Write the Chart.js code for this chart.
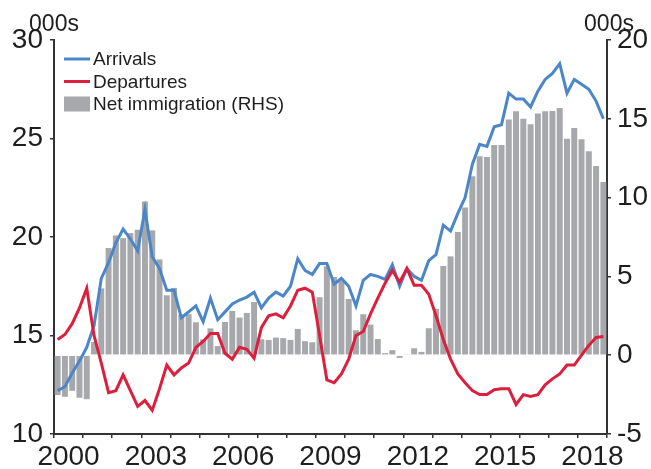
<!DOCTYPE html>
<html><head><meta charset="utf-8">
<script src="https://cdn.jsdelivr.net/npm/chart.js@4.4.1/dist/chart.umd.min.js"></script>
<style>html,body{margin:0;padding:0;background:#fff}#wrap{width:651px;height:469px;position:relative}</style>
</head><body><div id="wrap"><canvas id="c"></canvas></div>
<script>
// Quarterly categories 2000 Q1 .. 2018 Q4
const startYear = 2000, endYear = 2018;
const quarters = [];
for (let y = startYear; y <= endYear; y++) for (let q = 1; q <= 4; q++) quarters.push(y + ' Q' + q);

// Arrivals, 000s (LHS)
const arrivals = [
  12.2, 12.4, 13.1, 13.7, 14.4, 15.5, 17.9, 18.7, 19.7, 20.4, 19.9, 19.3,
  21.4, 19.0, 18.4, 17.3, 17.3, 15.9, 16.2, 16.5, 15.7, 16.9, 15.8, 16.2,
  16.6, 16.8, 16.95, 17.2, 16.4, 16.9, 17.2, 17.0, 17.5, 18.9, 18.3, 18.1,
  18.65, 18.65, 17.6, 17.9, 17.5, 16.5, 17.8, 18.1, 18.0, 17.85, 18.6, 17.5,
  18.4, 18.0, 17.8, 18.8, 19.1, 20.6, 20.3, 21.2, 22.0, 23.7, 24.7, 24.6,
  25.6, 25.7, 27.3, 27.0, 27.0, 26.6, 27.4, 28.0, 28.3, 28.8, 27.3, 28.0,
  27.75, 27.5, 26.9, 26.0
];
// Departures, 000s (LHS)
const departures = [
  14.8, 15.05, 15.6, 16.4, 17.4, 15.0, 13.6, 12.1, 12.2, 13.0, 12.2, 11.4,
  11.7, 11.2, 12.3, 13.5, 13.0, 13.35, 13.6, 14.4, 14.7, 15.1, 15.1, 14.1,
  13.8, 14.4, 14.3, 13.85, 15.4, 16.0, 16.1, 15.9, 16.5, 17.3, 17.4, 17.2,
  15.0, 12.75, 12.6, 13.05, 13.8, 15.0, 15.2, 16.1, 16.9, 17.65, 18.3, 17.7,
  18.4, 17.55, 17.55, 17.1, 16.0, 14.8, 13.8, 13.05, 12.6, 12.2, 12.0, 12.0,
  12.25, 12.3, 12.3, 11.5, 12.0, 11.9, 12.0, 12.5, 12.8, 13.05, 13.5, 13.5,
  14.0, 14.5, 14.9, 14.95
];
// Net immigration, 000s (RHS)
const netImmigration = [
  -2.53, -2.64, -2.26, -2.7, -2.79, 0.84, 4.24, 6.8, 7.6, 7.43, 7.75, 7.96,
  9.76, 7.92, 6.08, 3.8, 4.27, 2.58, 2.6, 2.09, 1.0, 1.7, 0.58, 2.11,
  2.81, 2.39, 2.68, 3.37, 1.01, 0.97, 1.12, 1.08, 0.97, 1.67, 0.89, 0.82,
  3.68, 5.64, 4.96, 4.71, 3.57, 1.58, 2.6, 1.94, 1.03, 0.13, 0.32, -0.17,
  0.06, 0.44, 0.21, 1.71, 2.94, 5.66, 6.27, 7.82, 9.37, 11.35, 12.62, 12.58,
  13.34, 13.34, 14.95, 15.48, 15.01, 14.65, 15.33, 15.48, 15.5, 15.69, 13.74, 14.42,
  13.7, 12.94, 12.0, 10.99
];
const yearLabels = ['2000', '2003', '2006', '2009', '2012', '2015', '2018'];
const leftTicks = [10, 15, 20, 25, 30];
const rightTicks = [-5, 0, 5, 10, 15, 20];
const unitLabel = '000s';
const seriesNames = ['Arrivals', 'Departures', 'Net immigration (RHS)'];

const BLUE = '#4a86c8', RED = '#dc1f3c', GREY = '#a7a8ac', INK = '#1e1e1e', AXIS = '#333333';
const FONT = '"Liberation Sans", Arial, Helvetica, sans-serif';

function qx(label) { const [y, q] = label.split(' Q'); return Number(y) + (Number(q) - 0.5) / 4; }
const toPts = arr => arr.map((v, i) => ({ x: qx(quarters[i]), y: v }));

const overlay = {
  id: 'overlay',
  afterDraw(chart) {
    const { ctx, scales, chartArea } = chart;
    ctx.save();
    ctx.fillStyle = INK;
    ctx.font = '23px ' + FONT;
    ctx.textAlign = 'center';
    ctx.textBaseline = 'alphabetic';
    ctx.fillText(unitLabel, chartArea.left, 30.5);
    ctx.fillText(unitLabel, chartArea.right + 2, 30.5);
    // legend
    const lx = chartArea.left + 10, tx = lx + 29;
    const ds = chart.data.datasets;
    const order = [0, 1, 2];
    ctx.font = '19px ' + FONT;
    ctx.textAlign = 'left';
    order.forEach((k, i) => {
      const cy = chartArea.top + 19 + i * 22.5;
      const d = ds[k];
      if (d.type === 'line') {
        ctx.strokeStyle = d.borderColor; ctx.lineWidth = 3;
        ctx.beginPath(); ctx.moveTo(lx, cy); ctx.lineTo(lx + 26, cy); ctx.stroke();
      } else {
        ctx.fillStyle = d.backgroundColor; ctx.fillRect(lx, cy - 7.5, 26, 15);
      }
      ctx.fillStyle = INK;
      ctx.textBaseline = 'middle';
      ctx.fillText(d.label, tx, cy + 1);
    });
    ctx.restore();
  }
};

new Chart(document.getElementById('c'), {
  type: 'bar',
  data: {
    datasets: [
      { type: 'line', label: seriesNames[0], data: toPts(arrivals), yAxisID: 'y', borderColor: BLUE, backgroundColor: BLUE, borderWidth: 3, pointRadius: 0, tension: 0, order: 2 },
      { type: 'line', label: seriesNames[1], data: toPts(departures), yAxisID: 'y', borderColor: RED, backgroundColor: RED, borderWidth: 3, pointRadius: 0, tension: 0, order: 1 },
      { type: 'bar', label: seriesNames[2], data: toPts(netImmigration), yAxisID: 'y1', backgroundColor: GREY, borderWidth: 0, categoryPercentage: 1, barPercentage: 0.82, order: 3 }
    ]
  },
  options: {
    responsive: true, maintainAspectRatio: false, animation: false, devicePixelRatio: 1,
    layout: { padding: { top: 40, left: 0, right: 0, bottom: 0 } },
    plugins: { legend: { display: false }, tooltip: { enabled: false } },
    scales: {
      x: {
        type: 'linear', min: startYear, max: endYear + 1, offset: false,
        afterBuildTicks(s) {
          const t = [];
          for (let v = startYear; v <= endYear + 1; v += 0.5) t.push({ value: v });
          s.ticks = t;
        },
        afterFit(s) { s.height = 35; },
        grid: {
          drawOnChartArea: false, drawTicks: true, tickLength: 4, offset: false, lineWidth: 1.5,
          tickColor: c => (c.tick && Number.isInteger(c.tick.value)) ? AXIS : 'rgba(0,0,0,0)'
        },
        border: { display: true, color: AXIS, width: 2 },
        ticks: {
          autoSkip: false, maxRotation: 0, minRotation: 0, padding: 2, color: INK,
          font: { family: FONT, size: 28 },
          callback(v) {
            if (Number.isInteger(v)) return '';
            const lab = String(Math.floor(v));
            return yearLabels.includes(lab) ? lab : '';
          }
        }
      },
      y: {
        position: 'left', min: leftTicks[0], max: leftTicks[leftTicks.length - 1],
        afterBuildTicks(s) { s.ticks = leftTicks.map(v => ({ value: v })); },
        afterFit(s) { s.width = 54; },
        grid: { drawOnChartArea: false, drawTicks: true, tickLength: 4, lineWidth: 1.5, tickColor: AXIS },
        border: { display: true, color: AXIS, width: 2 },
        ticks: { padding: 7, color: INK, font: { family: FONT, size: 28 } }
      },
      y1: {
        position: 'right', min: rightTicks[0], max: rightTicks[rightTicks.length - 1],
        afterBuildTicks(s) { s.ticks = rightTicks.map(v => ({ value: v })); },
        afterFit(s) { s.width = 44; },
        grid: { drawOnChartArea: false, drawTicks: true, tickLength: 4, lineWidth: 1.5, tickColor: AXIS },
        border: { display: true, color: AXIS, width: 2 },
        ticks: { padding: 6, color: INK, font: { family: FONT, size: 28 } }
      }
    }
  },
  plugins: [overlay]
});
</script>
</body></html>
